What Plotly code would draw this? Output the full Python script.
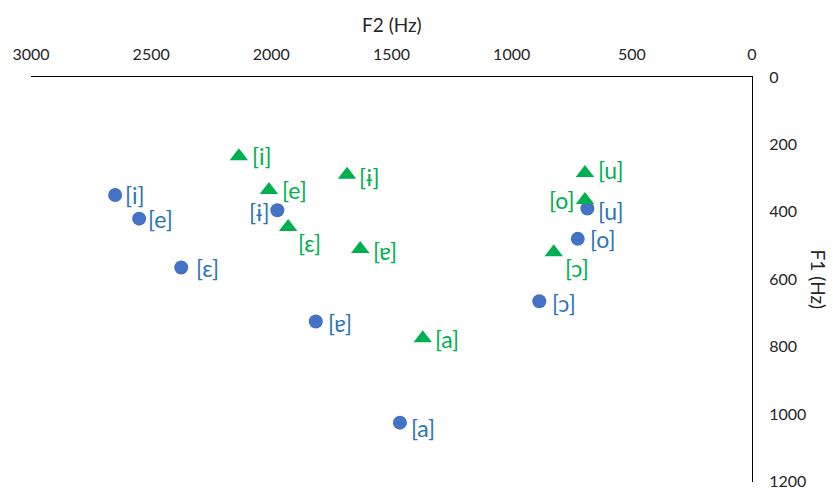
import plotly.graph_objects as go

# Vowel formant measurements (Hz) for two speakers / conditions
labels = ["[i]", "[e]", "[ɛ]", "[ɨ]", "[ɐ]", "[a]", "[u]", "[o]", "[ɔ]"]

blue_f2 = [2650, 2550, 2375, 1975, 1815, 1465, 685, 725, 885]
blue_f1 = [350, 420, 565, 395, 725, 1025, 390, 480, 665]

green_f2 = [2135, 2010, 1930, 1685, 1630, 1370, 695, 695, 825]
green_f1 = [235, 335, 445, 290, 510, 775, 285, 365, 520]

x_ticks = [0, 500, 1000, 1500, 2000, 2500, 3000]
y_ticks = [0, 200, 400, 600, 800, 1000, 1200]

# label placement around each marker: (anchor, dx, dy) in pixels
blue_offsets = [("left", 8, 0), ("left", 7, 0), ("left", 13, 0), ("right", -6, -2),
                ("left", 10, -2), ("left", 9, -5), ("left", 9, -2), ("left", 10, 0),
                ("left", 11, -2)]
green_offsets = [("left", 11, 0), ("left", 11, 0), ("left", 8, -16), ("left", 10, -2),
                 ("left", 11, -2), ("left", 10, -1), ("left", 11, 3), ("right", -8, 0),
                 ("left", 9, -16)]

BLUE_MARK = "#4472C4"
BLUE_TEXT = "#2E75B6"
GREEN = "#00B050"
FONT = "Lato, 'Noto Sans', 'DejaVu Sans', sans-serif"

fig = go.Figure()
fig.add_trace(go.Scatter(
    x=blue_f2, y=blue_f1, mode="markers",
    marker=dict(symbol="circle", size=14, color=BLUE_MARK),
    hoverinfo="skip", showlegend=False,
))
fig.add_trace(go.Scatter(
    x=green_f2, y=green_f1, mode="markers",
    marker=dict(symbol="triangle-up", size=16, color=GREEN),
    hoverinfo="skip", showlegend=False,
))

annotations = []
for xs, ys, offs, color in ((blue_f2, blue_f1, blue_offsets, BLUE_TEXT),
                            (green_f2, green_f1, green_offsets, GREEN)):
    for xv, yv, lab, (anchor, dx, dy) in zip(xs, ys, labels, offs):
        annotations.append(dict(
            x=xv, y=yv, xref="x", yref="y", text=lab, showarrow=False,
            xanchor=anchor, yanchor="middle", xshift=dx, yshift=dy,
            font=dict(family=FONT, size=23, color=color),
        ))

annotations.append(dict(
    x=0.5, y=1, xref="paper", yref="paper", text="F2 (Hz)", showarrow=False,
    xanchor="center", yanchor="middle", yshift=53,
    font=dict(family=FONT, size=19, color="#262626"),
))
annotations.append(dict(
    x=1, y=0.5, xref="paper", yref="paper", text="F1 (Hz)", showarrow=False,
    xanchor="center", yanchor="middle", xshift=66, textangle=90,
    font=dict(family=FONT, size=19, color="#262626"),
))

fig.update_layout(
    width=833, height=488,
    margin=dict(l=31, r=81, t=77, b=6),
    paper_bgcolor="white", plot_bgcolor="white",
    annotations=annotations,
    xaxis=dict(
        range=[3000, 0], side="top", tickvals=x_ticks,
        ticktext=[str(v) for v in x_ticks], automargin=False,
        showgrid=False, zeroline=False, showline=True, linecolor="black",
        linewidth=1, ticks="", ticklabelstandoff=10,
        tickfont=dict(family=FONT, size=16, color="#262626"),
    ),
    yaxis=dict(
        range=[1201, 0], side="right", tickvals=y_ticks,
        ticktext=[str(v) for v in y_ticks], automargin=False,
        showgrid=False, zeroline=False, showline=True, linecolor="black",
        linewidth=1, ticks="", ticklabelstandoff=13, ticklabeloverflow="allow",
        tickfont=dict(family=FONT, size=16, color="#262626"),
    ),
)

fig.write_html("out.html")
